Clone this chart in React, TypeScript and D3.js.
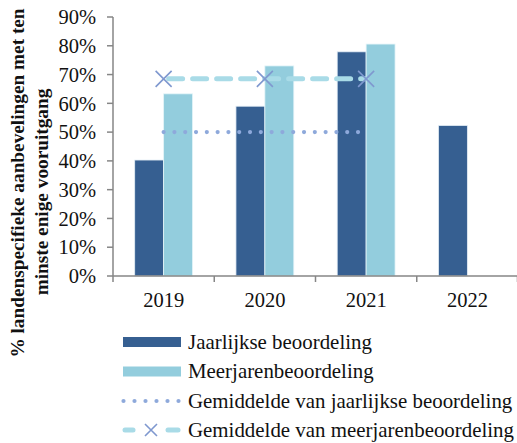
import React from "react";
import * as d3 from "d3";

const years = ["2019", "2020", "2021", "2022"];
const annual = [40.3, 59.0, 77.9, 52.3];
const multiYear: (number | null)[] = [63.3, 73.0, 80.6, null];
const annualAvgYears = ["2019", "2020", "2021"];
const annualAvg = [50, 50, 50];
const multiAvgYears = ["2019", "2020", "2021"];
const multiAvg = [68.5, 68.5, 68.5];
const yTicks = [0, 10, 20, 30, 40, 50, 60, 70, 80, 90];
const legendLabels = [
  "Jaarlijkse beoordeling",
  "Meerjarenbeoordeling",
  "Gemiddelde van jaarlijkse beoordeling",
  "Gemiddelde van meerjarenbeoordeling",
];
const yTitle1 = "% landenspecifieke aanbevelingen met ten";
const yTitle2 = "minste enige vooruitgang";

const DARK = "#365F91";
const LIGHT = "#93CDDD";
const DOT = "#8EA9DB";
const DASH = "#A9DBE7";
const XMARK = "#7F98CF";
const AXIS = "#868686";
const FONT = "'Liberation Serif', 'Times New Roman', serif";

export default function App() {
  const W = 517, H = 443;
  const left = 113, right = 518, top = 17, bottom = 276;
  const x = d3.scaleBand<string>().domain(years).range([left, right]).paddingInner(0).paddingOuter(0);
  const x1 = d3.scaleBand<string>().domain(["a", "m"]).range([0, x.bandwidth()]).paddingInner(0).paddingOuter(0.75);
  const y = d3.scaleLinear().domain([0, 90]).range([bottom, top]);
  const cx = (yr: string) => (x(yr) as number) + x.bandwidth() / 2;

  const line = d3.line<[number, number]>().x((d) => d[0]).y((d) => d[1]);
  const annualPath = line(annualAvgYears.map((yr, i) => [cx(yr), y(annualAvg[i])]))!;
  const multiPath = line(multiAvgYears.map((yr, i) => [cx(yr), y(multiAvg[i])]))!;

  const xMark = (px: number, py: number, key: string, s = 8) => (
    <path key={key} d={`M${px - s},${py - s}L${px + s},${py + s}M${px - s},${py + s}L${px + s},${py - s}`} stroke={XMARK} strokeWidth={1.6} fill="none" />
  );

  const legendY = [342, 371.5, 401, 430];
  const lx0 = 123, lx1 = 181, tx = 188;

  return (
    <svg width={W} height={H} style={{ position: "absolute", left: 0, top: 0, background: "#fff" }} fontFamily={FONT}>
      {years.map((yr, i) => (
        <g key={yr}>
          <rect x={(x(yr) as number) + (x1("a") as number)} y={y(annual[i])} width={x1.bandwidth()} height={bottom - y(annual[i])} fill={DARK} stroke="#E4EEF6" strokeWidth={0.8} />
          {multiYear[i] != null && (
            <rect x={(x(yr) as number) + (x1("m") as number)} y={y(multiYear[i] as number)} width={x1.bandwidth()} height={bottom - y(multiYear[i] as number)} fill={LIGHT} stroke="#E4F4F8" strokeWidth={0.8} />
          )}
        </g>
      ))}
      <path d={annualPath} stroke={DOT} strokeWidth={4.2} strokeDasharray="0 10.8" strokeLinecap="round" fill="none" />
      <path d={multiPath} stroke={DASH} strokeWidth={5} strokeDasharray="14 10" strokeDashoffset={-5} strokeLinecap="round" fill="none" />
      {multiAvgYears.map((yr, i) => xMark(cx(yr), y(multiAvg[i]), "m" + yr))}
      <line x1={left} x2={left} y1={top} y2={bottom} stroke={AXIS} strokeWidth={1.5} />
      {yTicks.map((t) => (
        <g key={t}>
          <line x1={left - 6} x2={left} y1={y(t)} y2={y(t)} stroke={AXIS} strokeWidth={1.5} />
          <text x={96} y={y(t)} dy="0.35em" textAnchor="end" fontSize={20.5} fill="#111">{t}%</text>
        </g>
      ))}
      <line x1={left} x2={right} y1={bottom} y2={bottom} stroke={AXIS} strokeWidth={1.5} />
      {[...years.map((yr) => x(yr) as number), right - 0.5].map((px, i) => (
        <line key={i} x1={px} x2={px} y1={bottom} y2={bottom + 6} stroke={AXIS} strokeWidth={1.5} />
      ))}
      {years.map((yr) => (
        <text key={yr} x={cx(yr)} y={307} textAnchor="middle" fontSize={20.5} fill="#111">{yr}</text>
      ))}
      <text transform="translate(24,183) rotate(-90)" textAnchor="middle" fontSize={19.3} fontWeight="bold" fill="#111">{yTitle1}</text>
      <text transform="translate(48,192) rotate(-90)" textAnchor="middle" fontSize={19.3} fontWeight="bold" fill="#111">{yTitle2}</text>
      <rect x={lx0} y={legendY[0] - 5} width={lx1 - lx0} height={10} fill={DARK} />
      <rect x={lx0} y={legendY[1] - 5} width={lx1 - lx0} height={10} fill={LIGHT} />
      <line x1={lx0 + 0.5} x2={lx1} y1={legendY[2]} y2={legendY[2]} stroke={DOT} strokeWidth={4.2} strokeDasharray="0 11" strokeLinecap="round" />
      <line x1={lx0 + 2} x2={lx0 + 10} y1={legendY[3]} y2={legendY[3]} stroke={DASH} strokeWidth={5} strokeLinecap="round" />
      <line x1={lx1 - 13} x2={lx1 - 3} y1={legendY[3]} y2={legendY[3]} stroke={DASH} strokeWidth={5} strokeLinecap="round" />
      {xMark((lx0 + lx1) / 2 - 1, legendY[3], "lm", 6)}
      {legendLabels.map((l, i) => (
        <text key={l} x={tx} y={legendY[i]} dy="0.33em" fontSize={20.9} fill="#111">{l}</text>
      ))}
    </svg>
  );
}
